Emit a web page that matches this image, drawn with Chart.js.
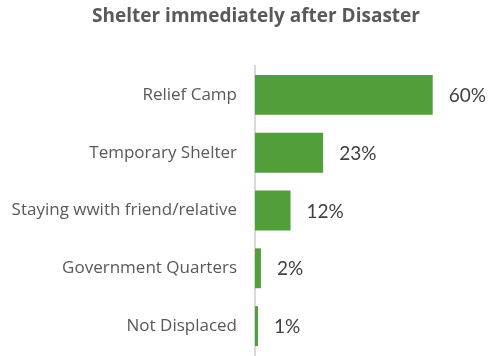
<!DOCTYPE html>
<html>
<head>
<meta charset="utf-8">
<script src="https://cdn.jsdelivr.net/npm/chart.js@4"></script>
<style>
  html, body { margin: 0; padding: 0; background: #ffffff; overflow: hidden; }
  canvas { display: block; }
</style>
</head>
<body>
<canvas id="chart" width="489" height="356"></canvas>
<script>
// Shelter type used immediately after the disaster (% of households)
const categories = ['Relief Camp', 'Temporary Shelter', 'Staying wwith friend/relative', 'Government Quarters', 'Not Displaced'];
const shares = [60, 23, 12, 2, 1];
const titleText = 'Shelter immediately after Disaster';

// Heading centred over the plot rather than the whole canvas
const headingPlugin = {
  id: 'heading',
  afterDraw(chart) {
    const ctx = chart.ctx;
    ctx.save();
    ctx.font = 'bold 19px "Open Sans"';
    ctx.fillStyle = '#595959';
    ctx.textAlign = 'center';
    ctx.textBaseline = 'middle';
    ctx.fillText(titleText, 256, 17);
    ctx.restore();
  }
};

// Writes each bar's value as a percentage just beyond its end
const valueLabels = {
  id: 'valueLabels',
  afterDatasetsDraw(chart) {
    const ctx = chart.ctx;
    const meta = chart.getDatasetMeta(0);
    ctx.save();
    ctx.font = '19px Lato';
    ctx.fillStyle = '#404040';
    ctx.textAlign = 'left';
    ctx.textBaseline = 'middle';
    meta.data.forEach((bar, i) => {
      ctx.fillText(shares[i] + '%', bar.x + 16, bar.y + 1);
    });
    ctx.restore();
  }
};

new Chart(document.getElementById('chart'), {
  type: 'bar',
  data: {
    labels: categories,
    datasets: [{
      data: shares,
      backgroundColor: '#529e3a',
      borderWidth: 0,
      barPercentage: 0.69,
      categoryPercentage: 1.0
    }]
  },
  options: {
    indexAxis: 'y',
    responsive: false,
    animation: false,
    layout: { padding: { left: 0, right: 0, top: 66, bottom: 1 } },
    plugins: {
      legend: { display: false },
      tooltip: { enabled: false },
      title: { display: false }
    },
    scales: {
      x: {
        display: false,
        min: 0,
        max: 79
      },
      y: {
        afterFit(scale) {
          scale.width = 255;
          scale.paddingTop = 0;
          scale.paddingBottom = 0;
        },
        grid: { display: false, drawTicks: false },
        border: { display: true, color: '#d9d9d9', width: 2 },
        ticks: {
          color: '#595959',
          font: { family: 'Open Sans', size: 17 },
          padding: 18
        }
      }
    }
  },
  plugins: [valueLabels, headingPlugin]
});
</script>
</body>
</html>
